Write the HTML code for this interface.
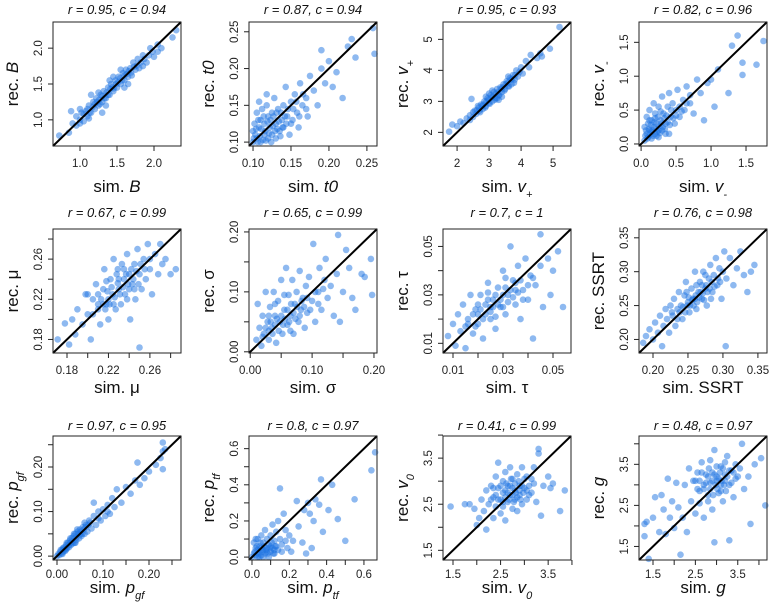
<!DOCTYPE html>
<html><head><meta charset="utf-8"><style>
html,body{margin:0;padding:0;background:#fff;}
svg{display:block;font-family:"Liberation Sans",sans-serif;}
</style></head><body>
<svg id="chart" width="776" height="606" viewBox="0 0 776 606" xmlns="http://www.w3.org/2000/svg"></svg>
<script>
// ---- data ----
const ptsB=[[0.72,0.78],[0.85,0.82],[0.9,0.95],[0.95,1.05],[1.0,1.0],[1.02,1.1],[1.05,0.98],[1.08,1.12],[1.1,1.05],[1.12,1.2],[1.15,1.1],[1.18,1.25],[1.2,1.15],[1.22,1.3],[1.25,1.2],[1.28,1.35],[1.3,1.25],[1.32,1.4],[1.35,1.3],[1.38,1.45],[1.4,1.35],[1.42,1.5],[1.45,1.4],[1.48,1.55],[1.5,1.45],[1.52,1.6],[1.55,1.5],[1.58,1.65],[1.6,1.55],[1.62,1.7],[1.65,1.6],[1.68,1.72],[1.7,1.62],[1.72,1.8],[1.75,1.7],[1.78,1.85],[1.8,1.72],[1.85,1.9],[1.9,1.8],[1.95,2.0],[2.0,1.88],[2.05,1.95],[2.1,2.0],[1.15,1.35],[1.3,1.1],[1.55,1.7],[0.88,1.12],[2.25,2.15],[2.3,2.25],[1.0,1.15],[1.4,1.55],[1.65,1.5],
[1.05,1.08],[1.1,1.15],[1.13,1.1],[1.17,1.18],[1.2,1.22],[1.23,1.25],[1.26,1.28],[1.27,1.22],[1.3,1.33],[1.33,1.3],[1.36,1.38],[1.38,1.35],[1.41,1.43],[1.44,1.46],[1.46,1.44],[1.49,1.5],[1.51,1.52],[1.54,1.58],[1.57,1.55],[1.6,1.62],[1.63,1.64],[1.66,1.68],[1.69,1.66],[1.73,1.74],[1.77,1.76],[1.82,1.8],[1.87,1.85],[1.93,1.9],[1.98,1.95],[2.05,2.05],[1.25,1.38],[1.45,1.6],[1.35,1.2],[1.6,1.45],[1.85,1.75],[1.0,0.95],[0.95,0.92],[1.12,1.02]];
const ptsT0=[[0.10,0.10],[0.10,0.115],[0.102,0.125],[0.105,0.105],[0.105,0.14],[0.108,0.12],[0.11,0.10],[0.11,0.13],[0.112,0.145],[0.115,0.11],[0.115,0.125],[0.118,0.15],[0.12,0.105],[0.12,0.135],[0.122,0.12],[0.125,0.14],[0.125,0.11],[0.128,0.16],[0.13,0.125],[0.13,0.105],[0.133,0.145],[0.135,0.115],[0.138,0.13],[0.14,0.15],[0.14,0.12],[0.143,0.175],[0.145,0.135],[0.148,0.11],[0.15,0.155],[0.152,0.13],[0.155,0.165],[0.158,0.14],[0.16,0.12],[0.162,0.18],[0.165,0.15],[0.17,0.16],[0.172,0.135],[0.175,0.19],[0.18,0.17],[0.185,0.15],[0.19,0.2],[0.19,0.225],[0.195,0.18],[0.2,0.21],[0.205,0.175],[0.21,0.195],[0.218,0.16],[0.225,0.23],[0.23,0.24],[0.258,0.255],[0.26,0.22],[0.235,0.215],[0.108,0.155],[0.118,0.165],
[0.101,0.105],[0.103,0.11],[0.104,0.118],[0.106,0.1],[0.107,0.13],[0.109,0.108],[0.111,0.118],[0.113,0.103],[0.114,0.135],[0.116,0.115],[0.117,0.102],[0.119,0.128],[0.121,0.112],[0.123,0.13],[0.124,0.1],[0.126,0.122],[0.127,0.135],[0.129,0.115],[0.131,0.14],[0.132,0.118],[0.134,0.128],[0.136,0.108],[0.137,0.14],[0.139,0.12],[0.142,0.135],[0.144,0.125],[0.146,0.145],[0.15,0.125],[0.153,0.145],[0.157,0.155],[0.161,0.135],[0.166,0.165],[0.17,0.145]];
const ptsVp=[[1.75,2.02],[1.85,2.25],[2.0,2.2],[2.1,2.35],[2.2,2.3],[2.3,2.45],[2.4,2.55],[2.45,3.08],[2.5,2.5],[2.55,2.7],[2.6,2.6],[2.65,2.85],[2.7,2.7],[2.75,2.9],[2.8,2.75],[2.85,3.0],[2.9,2.85],[2.95,3.1],[3.0,2.95],[3.05,3.2],[3.1,3.0],[3.15,3.3],[3.2,3.1],[3.25,3.4],[3.3,3.2],[3.35,3.45],[3.4,3.3],[3.45,3.55],[3.5,3.4],[3.55,3.65],[3.6,3.5],[3.65,3.75],[3.7,3.55],[3.75,3.85],[3.8,3.7],[3.85,4.0],[3.9,3.8],[4.0,4.1],[4.05,3.9],[4.15,4.3],[4.25,4.1],[4.3,4.5],[4.5,4.4],[4.6,4.55],[4.65,4.45],[4.9,4.7],[5.2,5.4],[3.0,3.25],[3.3,3.05],[2.9,3.15],[3.6,3.8],[3.4,3.15],
[2.62,2.72],[2.68,2.8],[2.72,2.65],[2.78,2.85],[2.82,2.9],[2.88,2.8],[2.92,3.0],[2.98,3.05],[3.02,2.92],[3.08,3.12],[3.12,3.15],[3.18,3.05],[3.22,3.25],[3.28,3.3],[3.32,3.2],[3.38,3.4],[3.42,3.45],[3.48,3.35],[3.52,3.55],[3.58,3.6],[3.62,3.48],[3.68,3.7],[3.72,3.72],[3.78,3.6],[3.82,3.85],[3.95,3.95],[2.4,2.4],[2.5,2.65],[3.1,3.35],[3.25,3.1]];
const ptsVm=[[0.05,0.05],[0.05,0.25],[0.08,0.15],[0.08,0.4],[0.1,0.1],[0.1,0.3],[0.12,0.2],[0.12,0.5],[0.15,0.08],[0.15,0.35],[0.18,0.25],[0.18,0.6],[0.2,0.15],[0.2,0.45],[0.22,0.3],[0.25,0.1],[0.25,0.55],[0.28,0.35],[0.3,0.2],[0.3,0.7],[0.32,0.45],[0.35,0.3],[0.38,0.55],[0.4,0.15],[0.4,0.75],[0.42,0.4],[0.45,0.6],[0.48,0.3],[0.5,0.5],[0.52,0.8],[0.55,0.4],[0.6,0.65],[0.62,0.5],[0.65,0.85],[0.7,0.6],[0.75,0.45],[0.8,0.95],[0.85,0.75],[0.9,0.35],[0.95,0.9],[1.0,0.95],[1.05,0.55],[1.1,1.1],[1.25,0.75],[1.3,1.45],[1.38,1.6],[1.45,1.2],[1.45,1.02],[1.65,1.17],[1.75,1.52],[0.15,0.18],[0.22,0.12],[0.35,0.15],[0.28,0.48],
[0.06,0.12],[0.07,0.2],[0.09,0.08],[0.11,0.22],[0.13,0.14],[0.14,0.28],[0.16,0.2],[0.17,0.12],[0.19,0.32],[0.21,0.22],[0.23,0.18],[0.24,0.4],[0.26,0.26],[0.27,0.16],[0.29,0.3],[0.31,0.25],[0.33,0.38],[0.34,0.22],[0.36,0.42],[0.38,0.32],[0.41,0.28],[0.43,0.5],[0.46,0.38],[0.5,0.42],[0.55,0.55],[0.58,0.48],[0.65,0.6],[0.7,0.72],[0.12,0.35],[0.2,0.38],[0.25,0.2]];
const ptsMu=[[0.171,0.180],[0.178,0.196],[0.182,0.175],[0.185,0.200],[0.188,0.185],[0.19,0.21],[0.195,0.195],[0.198,0.225],[0.2,0.205],[0.203,0.18],[0.205,0.22],[0.208,0.235],[0.21,0.21],[0.212,0.195],[0.215,0.23],[0.216,0.25],[0.218,0.215],[0.22,0.2],[0.222,0.24],[0.224,0.225],[0.225,0.26],[0.227,0.21],[0.228,0.245],[0.23,0.23],[0.232,0.215],[0.233,0.255],[0.235,0.24],[0.236,0.225],[0.238,0.265],[0.24,0.245],[0.241,0.2],[0.243,0.235],[0.245,0.255],[0.246,0.22],[0.248,0.27],[0.25,0.245],[0.25,0.172],[0.252,0.23],[0.254,0.26],[0.256,0.24],[0.258,0.275],[0.26,0.25],[0.262,0.225],[0.265,0.265],[0.268,0.245],[0.27,0.275],[0.272,0.255],[0.275,0.26],[0.28,0.245],[0.285,0.25],[0.22,0.22],[0.23,0.24],[0.24,0.23],[0.21,0.225],
[0.205,0.205],[0.21,0.215],[0.213,0.22],[0.217,0.21],[0.219,0.228],[0.221,0.215],[0.223,0.232],[0.226,0.222],[0.229,0.236],[0.231,0.225],[0.234,0.232],[0.237,0.245],[0.239,0.235],[0.242,0.25],[0.244,0.24],[0.247,0.248],[0.249,0.235],[0.251,0.255],[0.255,0.25],[0.229,0.25],[0.225,0.215],[0.235,0.25],[0.245,0.23],[0.215,0.215],[0.2,0.225],[0.26,0.26],[0.218,0.238],[0.238,0.22]];
const ptsSig=[[0.01,0.02],[0.012,0.08],[0.015,0.04],[0.018,0.01],[0.02,0.06],[0.022,0.03],[0.025,0.1],[0.028,0.05],[0.03,0.02],[0.032,0.075],[0.035,0.04],[0.038,0.1],[0.04,0.06],[0.042,0.015],[0.045,0.085],[0.048,0.05],[0.05,0.12],[0.052,0.03],[0.055,0.07],[0.058,0.14],[0.06,0.045],[0.062,0.095],[0.065,0.06],[0.068,0.12],[0.07,0.03],[0.072,0.08],[0.075,0.1],[0.078,0.05],[0.08,0.135],[0.082,0.07],[0.085,0.09],[0.088,0.04],[0.09,0.11],[0.092,0.065],[0.095,0.125],[0.1,0.085],[0.102,0.18],[0.105,0.05],[0.11,0.1],[0.112,0.14],[0.115,0.07],[0.12,0.12],[0.122,0.155],[0.125,0.09],[0.13,0.11],[0.135,0.06],[0.14,0.13],[0.142,0.195],[0.145,0.05],[0.15,0.1],[0.155,0.17],[0.16,0.14],[0.165,0.09],[0.17,0.07],[0.18,0.13],[0.185,0.125],[0.197,0.095],[0.195,0.155],
[0.02,0.025],[0.025,0.04],[0.03,0.035],[0.033,0.05],[0.036,0.03],[0.04,0.045],[0.043,0.055],[0.046,0.035],[0.05,0.06],[0.053,0.045],[0.056,0.055],[0.06,0.07],[0.063,0.05],[0.066,0.08],[0.07,0.065],[0.073,0.055],[0.076,0.075],[0.08,0.06],[0.083,0.085],[0.087,0.075],[0.092,0.09],[0.097,0.07],[0.105,0.1],[0.11,0.08],[0.118,0.105],[0.04,0.08],[0.055,0.095],[0.065,0.035],[0.03,0.06]];
const ptsTau=[[0.008,0.013],[0.01,0.018],[0.011,0.009],[0.012,0.022],[0.013,0.015],[0.014,0.026],[0.015,0.008],[0.016,0.02],[0.017,0.03],[0.018,0.014],[0.019,0.024],[0.02,0.018],[0.021,0.03],[0.022,0.012],[0.023,0.026],[0.024,0.035],[0.025,0.02],[0.026,0.028],[0.027,0.016],[0.028,0.033],[0.029,0.025],[0.03,0.04],[0.031,0.022],[0.032,0.03],[0.033,0.05],[0.034,0.036],[0.035,0.026],[0.036,0.042],[0.037,0.02],[0.038,0.032],[0.039,0.045],[0.04,0.028],[0.041,0.038],[0.042,0.012],[0.043,0.034],[0.045,0.042],[0.046,0.025],[0.048,0.045],[0.049,0.03],[0.05,0.04],[0.052,0.048],[0.054,0.025],[0.045,0.055],[0.025,0.025],[0.02,0.022],[0.03,0.03],[0.035,0.032],[0.015,0.017],
[0.016,0.018],[0.018,0.022],[0.019,0.017],[0.021,0.024],[0.022,0.02],[0.023,0.022],[0.024,0.028],[0.025,0.023],[0.026,0.025],[0.027,0.03],[0.028,0.026],[0.029,0.028],[0.03,0.025],[0.031,0.033],[0.032,0.027],[0.033,0.032],[0.034,0.029],[0.035,0.035],[0.036,0.031],[0.037,0.036],[0.038,0.028],[0.04,0.034],[0.042,0.037],[0.02,0.026],[0.027,0.021],[0.024,0.031],[0.031,0.037]];
const ptsSSRT=[[0.186,0.195],[0.19,0.205],[0.195,0.215],[0.2,0.2],[0.203,0.225],[0.207,0.21],[0.21,0.235],[0.213,0.19],[0.215,0.22],[0.218,0.245],[0.22,0.23],[0.223,0.21],[0.225,0.25],[0.228,0.235],[0.23,0.26],[0.232,0.22],[0.235,0.245],[0.237,0.27],[0.24,0.25],[0.242,0.23],[0.245,0.265],[0.247,0.285],[0.25,0.255],[0.252,0.24],[0.255,0.275],[0.257,0.26],[0.26,0.3],[0.262,0.245],[0.265,0.27],[0.267,0.285],[0.27,0.26],[0.272,0.3],[0.275,0.275],[0.277,0.25],[0.28,0.29],[0.282,0.31],[0.285,0.27],[0.287,0.295],[0.29,0.32],[0.292,0.28],[0.295,0.305],[0.298,0.26],[0.3,0.3],[0.302,0.33],[0.305,0.29],[0.304,0.19],[0.31,0.32],[0.315,0.28],[0.32,0.305],[0.325,0.33],[0.33,0.295],[0.34,0.3],[0.345,0.31],[0.335,0.27],[0.26,0.26],[0.27,0.28],
[0.238,0.24],[0.243,0.248],[0.246,0.24],[0.249,0.25],[0.251,0.262],[0.253,0.25],[0.256,0.258],[0.258,0.25],[0.261,0.265],[0.263,0.255],[0.266,0.262],[0.268,0.27],[0.271,0.268],[0.273,0.258],[0.276,0.28],[0.278,0.27],[0.281,0.275],[0.284,0.285],[0.288,0.278],[0.293,0.29],[0.248,0.27],[0.262,0.28],[0.275,0.295],[0.235,0.23],[0.227,0.24],[0.283,0.26],[0.296,0.285]];
const ptsPgf=[[0.0,0.0],[0.003,0.005],[0.005,0.002],[0.007,0.01],[0.01,0.006],[0.012,0.015],[0.014,0.01],[0.016,0.02],[0.018,0.012],[0.02,0.025],[0.022,0.018],[0.024,0.03],[0.026,0.02],[0.028,0.035],[0.03,0.025],[0.032,0.04],[0.034,0.028],[0.036,0.045],[0.038,0.03],[0.04,0.05],[0.042,0.036],[0.045,0.055],[0.048,0.04],[0.05,0.06],[0.053,0.045],[0.056,0.065],[0.06,0.05],[0.063,0.07],[0.066,0.055],[0.07,0.08],[0.075,0.062],[0.08,0.09],[0.085,0.07],[0.09,0.1],[0.095,0.08],[0.1,0.105],[0.105,0.09],[0.11,0.115],[0.115,0.095],[0.12,0.13],[0.125,0.11],[0.13,0.15],[0.14,0.12],[0.15,0.155],[0.16,0.14],[0.17,0.17],[0.175,0.21],[0.18,0.16],[0.19,0.175],[0.2,0.19],[0.215,0.205],[0.225,0.22],[0.23,0.235],[0.23,0.255],[0.235,0.24],[0.23,0.195],[0.08,0.12],[0.05,0.048],
[0.008,0.014],[0.013,0.018],[0.017,0.015],[0.021,0.03],[0.025,0.024],[0.029,0.04],[0.033,0.033],[0.037,0.05],[0.041,0.042],[0.044,0.06],[0.047,0.05],[0.052,0.055],[0.055,0.05],[0.058,0.06],[0.062,0.065],[0.068,0.07],[0.072,0.075],[0.04,0.03],[0.03,0.03],[0.02,0.015],[0.012,0.005],[0.06,0.075],[0.09,0.085],[0.11,0.1]];
const ptsPtf=[[0.0,0.0],[0.01,0.02],[0.01,0.08],[0.02,0.01],[0.02,0.05],[0.03,0.0],[0.03,0.1],[0.04,0.03],[0.04,0.06],[0.05,0.01],[0.05,0.12],[0.06,0.04],[0.06,0.08],[0.07,0.02],[0.07,0.15],[0.08,0.05],[0.08,0.1],[0.09,0.0],[0.09,0.07],[0.1,0.03],[0.1,0.12],[0.11,0.05],[0.11,0.18],[0.12,0.09],[0.12,0.02],[0.13,0.14],[0.13,0.06],[0.14,0.2],[0.14,0.04],[0.15,0.38],[0.15,0.1],[0.16,0.07],[0.17,0.24],[0.18,0.15],[0.19,0.05],[0.2,0.12],[0.21,0.03],[0.22,0.09],[0.24,0.31],[0.25,0.17],[0.27,0.08],[0.28,0.26],[0.29,0.02],[0.3,0.3],[0.31,0.24],[0.32,0.05],[0.33,0.2],[0.34,0.32],[0.36,0.29],[0.37,0.43],[0.38,0.14],[0.41,0.26],[0.43,0.4],[0.46,0.21],[0.5,0.09],[0.55,0.32],[0.64,0.48],[0.66,0.58],[0.05,0.05],[0.03,0.04],
[0.015,0.03],[0.025,0.06],[0.035,0.02],[0.045,0.08],[0.055,0.03],[0.065,0.06],[0.075,0.04],[0.085,0.02],[0.095,0.05],[0.105,0.08],[0.115,0.02],[0.125,0.06],[0.02,0.1],[0.04,0.0],[0.06,0.0],[0.08,0.03],[0.1,0.06],[0.12,0.04],[0.16,0.03],[0.18,0.09]];
const ptsV0=[[1.45,2.45],[1.75,2.5],[1.85,2.5],[1.95,2.4],[2.0,2.05],[2.05,2.2],[2.1,2.6],[2.15,2.35],[2.2,2.8],[2.2,1.95],[2.25,2.5],[2.3,2.9],[2.35,2.2],[2.35,2.65],[2.4,3.1],[2.4,2.45],[2.45,2.85],[2.45,3.4],[2.5,2.6],[2.5,2.3],[2.55,3.0],[2.55,2.75],[2.6,2.15],[2.6,3.2],[2.65,2.55],[2.65,2.9],[2.7,2.7],[2.7,3.3],[2.75,2.4],[2.75,3.05],[2.8,2.8],[2.8,2.6],[2.85,3.15],[2.85,2.35],[2.9,2.9],[2.9,2.7],[2.95,3.3],[2.95,2.5],[3.0,2.85],[3.05,3.1],[3.05,2.6],[3.1,2.9],[3.15,2.75],[3.2,3.3],[3.25,2.55],[3.3,3.6],[3.35,2.25],[3.4,2.9],[3.5,3.1],[3.55,2.85],[3.6,2.95],[3.75,2.35],[3.85,2.8],[3.3,3.7],[2.6,2.8],[2.75,2.85],
[2.4,2.7],[2.45,2.6],[2.5,2.9],[2.55,2.55],[2.6,2.65],[2.62,2.95],[2.65,2.75],[2.68,2.6],[2.7,2.9],[2.72,3.05],[2.75,2.7],[2.78,2.55],[2.8,2.95],[2.82,2.75],[2.85,2.65],[2.88,3.0],[2.9,2.8],[2.92,2.6],[2.95,2.9],[2.98,2.75],[3.0,3.05],[3.05,2.8],[3.1,2.7],[2.3,2.6],[2.35,2.85],[3.2,2.95],[3.15,3.05],[2.55,2.45]];
const ptsG=[[1.3,2.05],[1.3,1.75],[1.35,2.1],[1.4,1.2],[1.5,2.2],[1.55,2.7],[1.65,1.85],[1.7,2.75],[1.75,2.4],[1.8,1.8],[1.85,3.15],[1.9,2.2],[1.95,2.6],[2.0,1.95],[2.05,3.05],[2.1,2.45],[2.15,1.3],[2.2,2.2],[2.25,3.0],[2.3,1.85],[2.35,3.4],[2.4,2.6],[2.45,3.1],[2.5,2.3],[2.55,3.3],[2.6,2.85],[2.6,2.55],[2.65,3.55],[2.7,3.0],[2.7,2.2],[2.75,3.25],[2.8,2.75],[2.85,3.6],[2.85,3.05],[2.9,2.4],[2.9,3.3],[2.95,3.85],[2.95,1.6],[3.0,3.1],[3.05,2.8],[3.1,3.45],[3.1,3.0],[3.15,2.6],[3.2,3.25],[3.25,3.7],[3.3,3.0],[3.3,1.65],[3.35,3.35],[3.4,2.7],[3.45,3.15],[3.55,3.4],[3.6,4.0],[3.65,2.9],[3.75,3.2],[3.8,2.05],[3.9,3.5],[4.05,3.65],[4.15,2.5],[3.0,3.2],[3.2,3.1],
[2.6,3.1],[2.65,3.3],[2.7,2.9],[2.75,3.05],[2.8,3.2],[2.82,3.4],[2.85,2.9],[2.9,3.1],[2.92,2.75],[2.95,3.25],[2.98,3.0],[3.0,3.45],[3.02,2.9],[3.05,3.15],[3.08,3.3],[3.1,2.85],[3.12,3.1],[3.15,3.4],[3.18,3.0],[3.2,3.55],[3.22,2.85],[3.25,3.2],[3.3,3.35],[3.35,3.05],[3.4,3.3],[2.55,2.9],[2.5,3.1],[3.5,3.2],[3.45,3.5],[2.8,2.6]];

const titles=["r = 0.95, c = 0.94","r = 0.87, c = 0.94","r = 0.95, c = 0.93","r = 0.82, c = 0.96","r = 0.67, c = 0.99","r = 0.65, c = 0.99","r = 0.7, c = 1","r = 0.76, c = 0.98","r = 0.97, c = 0.95","r = 0.8, c = 0.97","r = 0.41, c = 0.99","r = 0.48, c = 0.97"];
const tickVals=[[1.0,1.5,2.0],[0.10,0.15,0.20,0.25],[2,3,4,5],[0,0.5,1,1.5],[0.18,0.20,0.22,0.24,0.26,0.28],[0,0.05,0.10,0.15,0.20],[0.01,0.02,0.03,0.04,0.05],[0.20,0.25,0.30,0.35],[0,0.05,0.10,0.15,0.20,0.25],[0,0.1,0.2,0.3,0.4,0.5,0.6],[1.5,2,2.5,3,3.5,4],[1.5,2,2.5,3,3.5,4]];
const tickLabels=[["1.0","1.5","2.0"],["0.10","0.15","0.20","0.25"],["2","3","4","5"],["0.0","0.5","1.0","1.5"],["0.18","","0.22","","0.26",""],["0.00","","0.10","","0.20"],["0.01","","0.03","","0.05"],["0.20","0.25","0.30","0.35"],["0.00","","0.10","","0.20",""],["0.0","","0.2","","0.4","","0.6"],["1.5","","2.5","","3.5",""],["1.5","","2.5","","3.5",""]];
const allPts=[ptsB,ptsT0,ptsVp,ptsVm,ptsMu,ptsSig,ptsTau,ptsSSRT,ptsPgf,ptsPtf,ptsV0,ptsG];
const axisNames=[["B","i",""],["t0","i",""],["v","i","+"],["v","i","-"],["μ","",""],["σ","",""],["τ","",""],["SSRT","",""],["p","i","gf"],["p","i","tf"],["v","i","0"],["g","i",""]];
const slugs=["b","t0","v-plus","v-minus","mu","sigma","tau","ssrt","p-gf","p-tf","v0","g"];

// ---- layout ----
const domains=[[0.635,2.365],[0.0947,0.2633],[1.56,5.56],[-0.03,1.80],[0.1665,0.290],[-0.002,0.2049],[0.006,0.0572],[0.180,0.363],[-0.0087,0.2696],[-0.016,0.670],[1.29,3.98],[1.17,4.19]];
const colX=[53,249,443,639], boxW=128;
const rowTop=[22,229,436], boxH=124;
const titleDy=[-8,-12,-6], tickDy=[21,21,18], xTitleDy=[46,40,33];

const NS="http://www.w3.org/2000/svg";
const svg=document.getElementById('chart');
function mk(tag,attrs,parent){const e=document.createElementNS(NS,tag);for(const k in attrs)e.setAttribute(k,attrs[k]);(parent||svg).appendChild(e);return e;}
function label(parent,prefix,idx,attrs){
  const t=mk('text',attrs,parent);
  const n=axisNames[idx];
  const a=document.createElementNS(NS,'tspan');a.textContent=prefix;t.appendChild(a);
  const b=document.createElementNS(NS,'tspan');b.textContent=n[0];if(n[1]==='i')b.setAttribute('font-style','italic');t.appendChild(b);
  if(n[2]){const c=document.createElementNS(NS,'tspan');c.textContent=n[2];c.setAttribute('font-style','italic');c.setAttribute('font-size','11');c.setAttribute('baseline-shift','sub');t.appendChild(c);}
  return t;
}

for(let i=0;i<12;i++){
  const L=colX[i%4], T=rowTop[Math.floor(i/4)], r=Math.floor(i/4);
  const [d0,d1]=domains[i];
  const sx=v=>L+(v-d0)/(d1-d0)*boxW;
  const sy=v=>T+boxH-(v-d0)/(d1-d0)*boxH;
  const g=mk('g',{});
  
  
  const tt=mk('text',{x:L+boxW/2,y:T+titleDy[r],'text-anchor':'middle','font-size':'13','font-style':'italic',fill:'#111'},g);
  tt.textContent=titles[i];
  
  
  const pg=mk('g',{},g);
  
  
  allPts[i].forEach(p=>{
    const c=mk('circle',{cx:sx(p[0]).toFixed(1),cy:sy(p[1]).toFixed(1),r:3.3,fill:'rgba(30,115,225,0.5)'},pg);
    
    
  });
  const dl=mk('line',{x1:L,y1:T+boxH,x2:L+boxW,y2:T,stroke:'#000','stroke-width':2},g);
  
  
  const bx=mk('rect',{x:L,y:T,width:boxW,height:boxH,fill:'none',stroke:'#222','stroke-width':1},g);
  
  
  const xa=mk('g',{},g);
  
  
  const ya=mk('g',{},g);
  
  
  tickVals[i].forEach((v,k)=>{
    const x=sx(v), y=sy(v);
    mk('line',{x1:x,y1:T+boxH,x2:x,y2:T+boxH+5,stroke:'#222'},xa);
    mk('line',{x1:L,y1:y,x2:L-5,y2:y,stroke:'#222'},ya);
    if(tickLabels[i][k]){
      const a=mk('text',{x:x,y:T+boxH+tickDy[r],'text-anchor':'middle','font-size':'11.5',fill:'#222'},xa);
      a.textContent=tickLabels[i][k];
      
      
      const b=mk('text',{x:L-11,y:y,'text-anchor':'middle','font-size':'11.5',fill:'#222',transform:`rotate(-90 ${L-11} ${y})`},ya);
      b.textContent=tickLabels[i][k];
      
      
    }
  });
  const xt=label(g,'sim. ',i,{x:L+boxW/2,y:T+boxH+xTitleDy[r],'text-anchor':'middle','font-size':'17',fill:'#111'});
  
  
  const yx=L-35, yy=T+boxH/2;
  const yt=label(g,'rec. ',i,{x:yx,y:yy,'text-anchor':'middle','font-size':'17',fill:'#111',transform:`rotate(-90 ${yx} ${yy})`});
  
  
}
</script>
</body></html>
